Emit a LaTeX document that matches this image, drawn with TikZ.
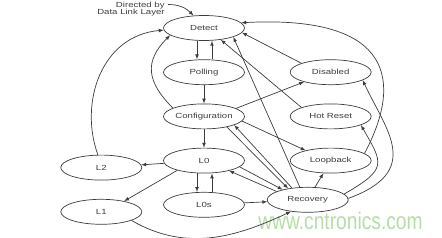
\documentclass[tikz,border=0pt]{standalone}
\usepackage{fontspec}
\setmainfont{Liberation Sans}[FakeStretch=1.3]
\newfontfamily\wmfont{Liberation Sans}[FakeStretch=0.8]
\usepackage{tikz}
\usetikzlibrary{shapes.geometric, arrows, positioning}
\definecolor{inkgray}{HTML}{3C3C3C}
\definecolor{wmgreen}{HTML}{B6DDA8}

\begin{document}
\begin{tikzpicture}[x=1pt, y=1pt, >=latex, node distance=18.5pt, line width=0.7pt, color=inkgray,
    font=\fontsize{7.4}{7}\selectfont,
    state/.style={draw=inkgray, ellipse, minimum width=81pt, minimum height=25pt, inner sep=0pt},
    note/.style={align=right, inner sep=0pt},
    watermark/.style={text=wmgreen, inner sep=0pt, font=\wmfont\fontsize{24}{24}\selectfont},
    edge/.style={->, draw=inkgray}]
\useasboundingbox (0,0) rectangle (442,-238);

\node[watermark, anchor=base] (wm) at (340.5,-229) {www.cntronics.com};

\node[state] (detect) at (204,-28) {Detect};
\node[state, below=of detect] (polling) {Polling};
\node[state, below=of polling] (config) {Configuration};
\node[state, below=of config] (lzero) {L0};
\node[state, below=of lzero] (lzeros) {L0s};
\node[state, right=45pt of polling] (disabled) {Disabled};
\node[state, right=45pt of config] (hotreset) {Hot Reset};
\node[state, right=45pt of lzero] (loopback) {Loopback};
\node[state, right=22pt of lzeros, yshift=5pt] (recovery) {Recovery};
\node[state, left=21pt of lzero, yshift=-7pt] (ltwo) {L2};
\node[state, left=21pt of lzeros, yshift=-7pt] (lone) {L1};
\node[note, anchor=north east] (dll) at (165,-1.5) {Directed by\\Data Link Layer};

\draw[edge] ([shift={(3pt,-3pt)}]dll.north east) to[out=0, in=135] (detect.130);

\draw[edge] ([xshift=-7pt]detect.south) -- ([xshift=-7pt]polling.north);
\draw[edge] ([xshift=8pt]polling.north) -- ([xshift=8pt]detect.south);
\draw[edge] (polling) -- (config);
\draw[edge] (config) -- (lzero);
\draw[edge] ([xshift=-7pt]lzero.south) -- ([xshift=-7pt]lzeros.north);
\draw[edge] ([xshift=8pt]lzeros.north) -- ([xshift=8pt]lzero.south);

\draw[edge] (config.165) to[out=135, in=225, looseness=1.3] (detect.192);
\draw[edge] (ltwo.105) to[out=110, in=185, out distance=55pt, in distance=63pt] (detect.183);
\draw[edge] (lzero) -- (ltwo);
\draw[edge] (lzero.200) -- (lone.25);
\draw[edge] (lone.344) to[out=-30, in=205] (recovery.215);
\draw[edge] (lzeros) -- (recovery);

\draw[edge] (recovery.165) -- (lzero.-22);
\draw[edge] (lzero.-10) -- (recovery.158);
\draw[edge] (config.-25) -- (recovery.150);
\draw[edge] (recovery.143) -- (config.-16);
\draw[edge] (config.-7) -- (loopback.158);
\draw[edge] (config.14) -- (disabled.200);
\draw[edge] (recovery.60) -- (loopback.240);

\draw[edge] (recovery.122) -- (detect.-17);
\draw[edge] (hotreset.163) -- (detect.-35);
\draw[edge] (disabled.163) -- (detect.-7);
\draw[edge] (loopback.12) to[out=62, in=3, out distance=80pt, in distance=154pt] (detect.8);
\draw[edge] (recovery.2) to[out=20, in=-65, out distance=80pt, in distance=55pt] (disabled.-14);
\draw[edge] (recovery.9) to[out=30, in=-60, out distance=50pt, in distance=45pt] (hotreset.-16);
\end{tikzpicture}
\end{document}
